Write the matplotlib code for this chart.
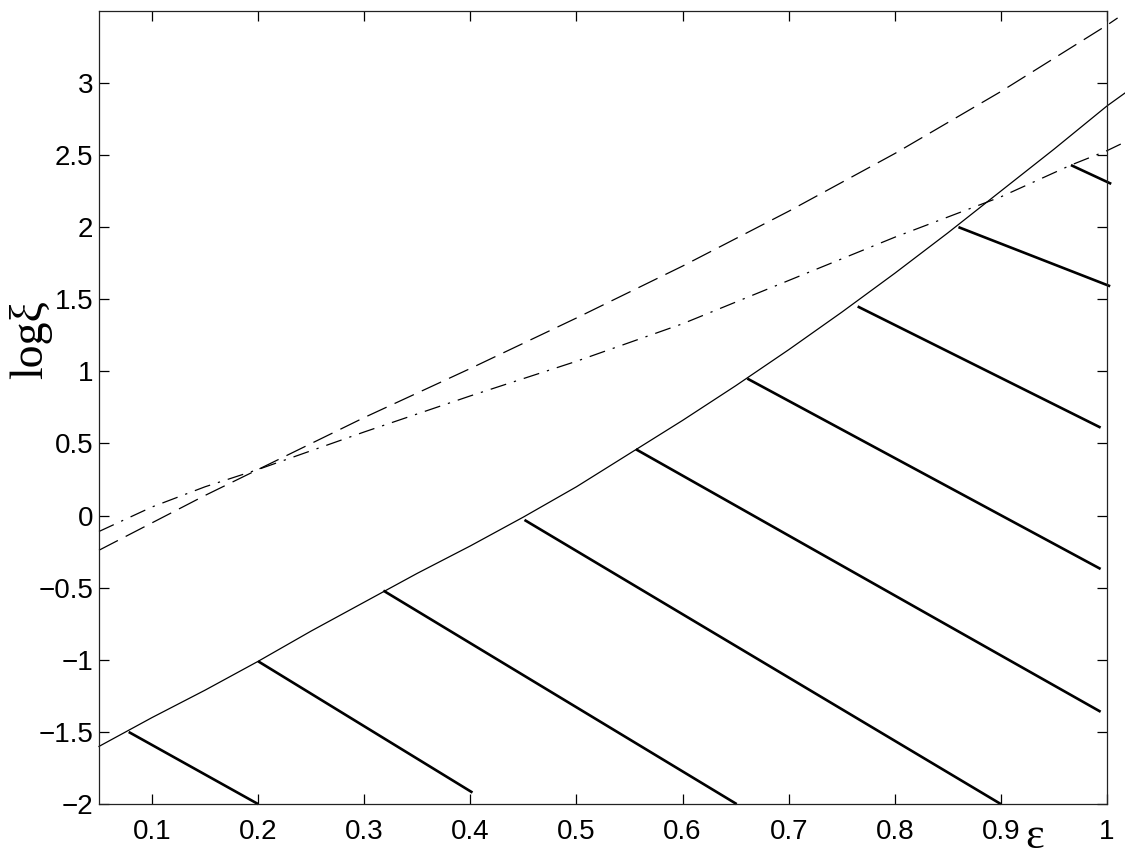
import numpy as np
import matplotlib
matplotlib.use('Agg')
import matplotlib.pyplot as plt

# curves
eps_solid = [0.05, 0.1, 0.15, 0.2, 0.25, 0.3, 0.35, 0.4, 0.45, 0.5, 0.55, 0.6,
             0.65, 0.7, 0.75, 0.8, 0.85, 0.9, 0.95, 1.0, 1.017]
log_solid = [-1.60, -1.40, -1.21, -1.01, -0.80, -0.60, -0.40, -0.21, -0.01, 0.20,
             0.43, 0.66, 0.90, 1.15, 1.41, 1.68, 1.96, 2.25, 2.54, 2.84, 2.93]

eps_dash = [0.05, 0.1, 0.15, 0.2, 0.3, 0.4, 0.5, 0.6, 0.7, 0.8, 0.9, 1.0, 1.01]
log_dash = [-0.24, -0.05, 0.14, 0.32, 0.68, 1.02, 1.37, 1.73, 2.11, 2.51, 2.94, 3.40, 3.45]

eps_dashdot = [0.05, 0.1, 0.15, 0.2, 0.3, 0.4, 0.5, 0.6, 0.7, 0.8, 0.9, 0.966, 1.0, 1.017]
log_dashdot = [-0.11, 0.06, 0.20, 0.32, 0.58, 0.83, 1.07, 1.33, 1.63, 1.93, 2.21, 2.43, 2.53, 2.59]

# hatch strokes: start (on boundary) and end points
hatch_x0 = [0.078, 0.200, 0.318, 0.451, 0.556, 0.661, 0.765, 0.860, 0.966]
hatch_y0 = [-1.50, -1.01, -0.52, -0.03, 0.46, 0.95, 1.45, 2.00, 2.43]
hatch_x1 = [0.200, 0.402, 0.651, 0.900, 0.994, 0.994, 0.994, 1.003, 1.004]
hatch_y1 = [-2.00, -1.92, -2.00, -2.00, -1.36, -0.37, 0.61, 1.59, 2.30]

x_ticks = [0.1, 0.2, 0.3, 0.4, 0.5, 0.6, 0.7, 0.8, 0.9, 1.0]
y_ticks = [-2, -1.5, -1, -0.5, 0, 0.5, 1, 1.5, 2, 2.5, 3]
x_labels = ['0.1', '0.2', '0.3', '0.4', '0.5', '0.6', '0.7', '0.8', '0.9', '1']
y_labels = ['\u22122', '\u22121.5', '\u22121', '\u22120.5', '0', '0.5', '1', '1.5', '2', '2.5', '3']

plt.rcParams['font.family'] = ['Liberation Sans', 'DejaVu Sans']

fig = plt.figure(figsize=(11.25, 8.6), dpi=100)
ax = fig.add_axes([0.088, 0.065, 0.896, 0.9225])

ax.plot(eps_solid, log_solid, color='black', lw=0.9, clip_on=False)
ax.plot(eps_dash, log_dash, color='black', lw=0.9, dashes=(17, 7), clip_on=False)
ax.plot(eps_dashdot, log_dashdot, color='black', lw=0.9,
        dashes=(13, 6.5, 1.8, 6.5), clip_on=False)

for x0, y0, x1, y1 in zip(hatch_x0, hatch_y0, hatch_x1, hatch_y1):
    ax.plot([x0, x1], [y0, y1], color='black', lw=1.9, clip_on=False,
            solid_capstyle='butt')

ax.set_xlim(0.05, 1.0)
ax.set_ylim(-2, 3.5)
ax.set_xticks(x_ticks)
ax.set_xticklabels(x_labels)
ax.set_yticks(y_ticks)
ax.set_yticklabels(y_labels)
ax.tick_params(direction='in', length=7, width=0.9, labelsize=20,
               top=True, right=True, pad=4, colors='black')
ax.tick_params(axis='x', pad=11)
for s in ax.spines.values():
    s.set_linewidth(0.9)
    s.set_color('#222222')

fig.text(0.027, 0.605, 'log\u03be', rotation=90, fontsize=33,
         family=['Liberation Serif', 'DejaVu Serif'], ha='center', va='center')
fig.text(0.92, 0.003, '\u03b5', fontsize=32,
         family=['Liberation Serif', 'DejaVu Serif'], ha='center', va='bottom')

fig.savefig('out.png', dpi=100)
